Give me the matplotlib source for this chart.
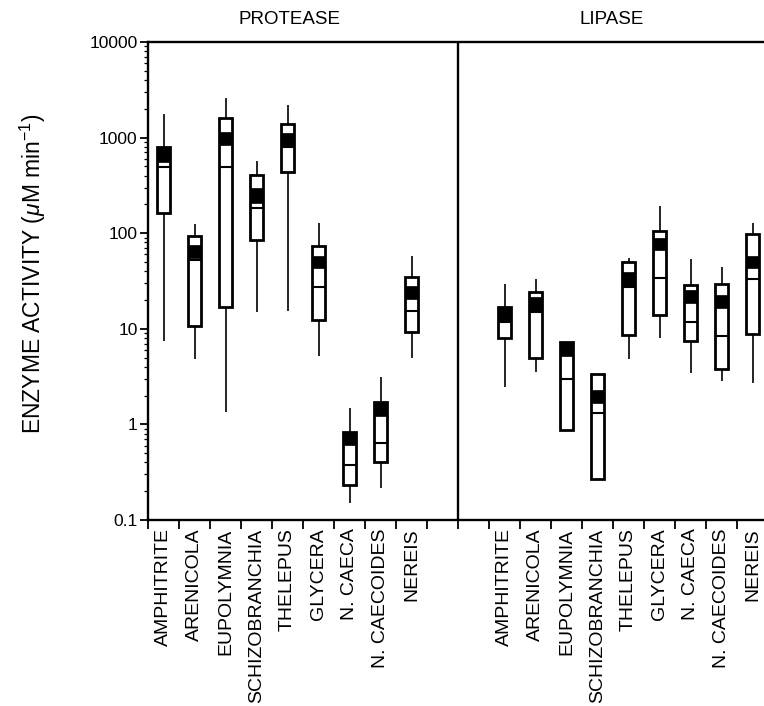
import matplotlib
matplotlib.use("Agg")
import matplotlib.pyplot as plt
from matplotlib.ticker import FixedLocator, LogLocator, NullFormatter, FuncFormatter

plt.rcParams['font.family'] = ['Liberation Sans', 'DejaVu Sans']
plt.rcParams['mathtext.fontset'] = 'custom'
plt.rcParams['mathtext.rm'] = 'Liberation Sans'
plt.rcParams['mathtext.it'] = 'Liberation Sans:italic'

categories = ["AMPHITRITE", "ARENICOLA", "EUPOLYMNIA", "SCHIZOBRANCHIA", "THELEPUS",
              "GLYCERA", "N. CAECA", "N. CAECOIDES", "NEREIS"]

# PROTEASE
prot_whi = [1750, 124, 2580, 570, 2190, 127, 1.47, 3.16, 58]
prot_q3 = [800, 94, 1615, 406, 1376, 74, 0.84, 1.70, 35]
prot_mhi = [773, 75, 1153, 295, 1109, 58, 0.82, 1.70, 28.2]
prot_mlo = [560, 55, 837, 206, 803, 43, 0.61, 1.22, 20.4]
prot_med = [496, 52, 496, 182, 803, 27.6, 0.376, 0.634, 15.4]
prot_q1 = [164, 10.8, 17, 85, 440, 12.4, 0.232, 0.407, 9.3]
prot_wlo = [7.5, 4.8, 1.34, 15.1, 15.4, 5.2, 0.152, 0.215, 5.0]

# LIPASE
lip_whi = [29.4, 33, 7.3, 3.34, 55.5, 193, 53.3, 44, 127]
lip_q3 = [17, 24.3, 7.3, 3.34, 50.3, 106, 28.7, 29.2, 97.3]
lip_mhi = [17, 21.7, 7.3, 2.29, 39.6, 88.5, 25.5, 22.6, 57.8]
lip_mlo = [11.9, 14.9, 5.2, 1.69, 27.5, 66.7, 18.5, 16.4, 43]
lip_med = [11.9, 14.9, 2.96, 1.32, 27.5, 34.3, 11.7, 8.4, 33]
lip_q1 = [8.1, 5.0, 0.87, 0.27, 8.6, 14.1, 7.45, 3.77, 8.75]
lip_wlo = [2.44, 3.56, 0.87, 0.27, 4.8, 8.1, 3.47, 2.84, 2.73]

ytick_vals = [0.1, 1, 10, 100, 1000, 10000]
panel_titles = ["PROTEASE", "LIPASE"]

W, H = 764, 706
fig = plt.figure(figsize=(W / 100, H / 100), dpi=100)
left, right, top, bottom = 148, 768, 42, 520
ax = fig.add_axes([left / W, 1 - bottom / H, (right - left) / W, (bottom - top) / H])

ax.set_yscale('log')
ax.set_ylim(0.1, 10000)
ax.set_xlim(0, 20)

bw = 0.45

def draw_group(offset, whi, q3, mhi, mlo, med, q1, wlo):
    pos = [offset + 0.5 + i for i in range(len(whi))]
    ax.vlines(pos, wlo, whi, color='black', lw=1.2, zorder=2)
    ax.bar(pos, [a - b for a, b in zip(q3, q1)], bottom=q1, width=bw,
           facecolor='white', edgecolor='black', linewidth=2.0, zorder=3)
    ax.bar(pos, [a - b for a, b in zip(mhi, mlo)], bottom=mlo, width=bw,
           facecolor='black', edgecolor='black', linewidth=0.5, zorder=4)
    ax.hlines(med, [p - bw / 2 for p in pos], [p + bw / 2 for p in pos],
              color='black', lw=1.5, zorder=4)
    return pos

pos_p = draw_group(0, prot_whi, prot_q3, prot_mhi, prot_mlo, prot_med, prot_q1, prot_wlo)
pos_l = draw_group(11, lip_whi, lip_q3, lip_mhi, lip_mlo, lip_med, lip_q1, lip_wlo)

ax.axvline(10, color='black', lw=1.7, zorder=5)

# x ticks: boundaries as major ticks, labels at category centres
ax.xaxis.set_major_locator(FixedLocator(list(range(0, 21))))
ax.xaxis.set_major_formatter(NullFormatter())
ax.xaxis.set_minor_locator(FixedLocator(pos_p + pos_l))
ax.set_xticklabels(categories + categories, minor=True, rotation=90, fontsize=14)
ax.tick_params(axis='x', which='major', direction='out', length=6.5, width=1.3)
ax.tick_params(axis='x', which='minor', length=0, pad=6)

# y ticks
ax.yaxis.set_major_locator(FixedLocator(ytick_vals))
ax.yaxis.set_major_formatter(FuncFormatter(lambda v, p: '%g' % v))
ax.yaxis.set_minor_locator(LogLocator(base=10, subs=range(2, 10)))
ax.yaxis.set_minor_formatter(NullFormatter())
ax.tick_params(axis='y', which='major', direction='out', length=6, width=1.3, labelsize=12.5, pad=1.5)
ax.tick_params(axis='y', which='minor', direction='out', length=3, width=0.9)

for s in ['left', 'top', 'bottom']:
    ax.spines[s].set_linewidth(1.7)
ax.spines['right'].set_visible(False)

fig.text(290 / W, 1 - 20 / H, panel_titles[0], ha='center', va='center', fontsize=13.5)
fig.text(612 / W, 1 - 20 / H, panel_titles[1], ha='center', va='center', fontsize=13.5)

fig.text(33 / W, 1 - 274 / H, r'ENZYME ACTIVITY ($\mu$M min$^{-1}$)', rotation=90,
         ha='center', va='center', fontsize=16.5)

fig.savefig('out.png', dpi=100)
